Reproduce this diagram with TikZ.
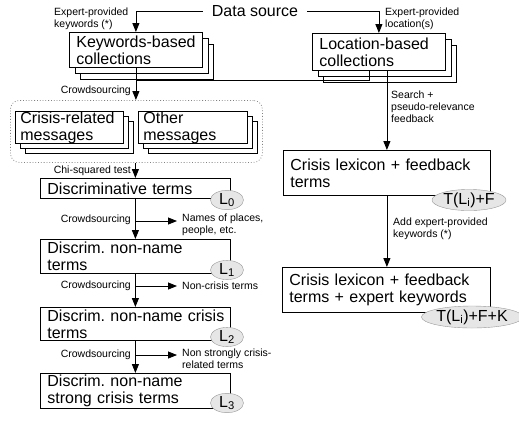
\documentclass[tikz,border=0pt]{standalone}
\usepackage{fontspec}
\setmainfont{Liberation Sans}
\usetikzlibrary{arrows.meta,shapes.geometric,shadows}
\definecolor{tagfill}{HTML}{E6E6E6}
\definecolor{tagline}{HTML}{999999}
\tikzset{
  big/.style={font=\fontsize{16}{17}\selectfont\frenchspacing},
  lbl/.style={font=\fontsize{10.5}{12}\selectfont\frenchspacing, align=left, inner sep=0pt},
  box/.style={draw=black, fill=white, line width=0.8pt, big, align=left,
    inner xsep=7pt, inner ysep=0pt, anchor=north west},
  stackbox/.style={box, double copy shadow={shadow xshift=5.5pt, shadow yshift=-6pt}},
  stackboxs/.style={box, inner xsep=5pt, double copy shadow={shadow xshift=5pt, shadow yshift=-5pt}},
  arr/.style={-{Triangle[length=9pt,width=7pt]}, line width=0.8pt},
  ln/.style={line width=0.8pt},
  tag/.style={ellipse, draw=tagline, fill=tagfill, inner sep=0pt, big},
}
\begin{document}
\begin{tikzpicture}[x=1pt,y=-1pt]
\useasboundingbox (0,0) rectangle (519,424);

% top
\node[big, inner xsep=9pt, inner ysep=0pt] (ds) at (255,11) {Data source};
\node[stackbox, text width=119pt, minimum height=35pt] (kw) at (69,32) {\mbox{Keywords-based}\\\mbox{collections}};
\node[stackbox, text width=119pt, minimum height=37pt] (loc) at (312,33) {\mbox{Location-based}\\\mbox{collections}};
\node[lbl, anchor=north west] (lkw) at (54,8) {Expert-provided\\keywords (*)};
\node[lbl, anchor=north west] (lloc) at (385,8) {Expert-provided\\location(s)};
\draw[arr] (ds.west) -| (kw.north);
\draw[arr] (ds.east) -| (loc.north);

% group
\node[draw=gray, dotted, line width=0.8pt, rounded corners=9pt, anchor=north west,
      minimum width=252pt, minimum height=62pt] (grp) at (10,100) {};
\node[stackboxs, text width=98pt, minimum height=32pt] (cr) at (15,111) {\mbox{Crisis-related}\\\mbox{messages}};
\node[stackboxs, text width=99pt, minimum height=32pt] (oth) at (138,111) {\mbox{Other}\\\mbox{messages}};

\coordinate (j) at (135.5,80);
\draw[ln] ([xshift=-9.5pt]loc.south) |- (j);
\draw[arr] (kw.south) -- (kw.south |- grp.north);
\node[lbl, anchor=east] (c0) at (131,91) {Crowdsourcing};

% search
\node[box, text width=193pt, minimum height=45pt] (r1) at (283,150) {\mbox{Crisis lexicon + feedback}\\\mbox{terms}};
\node[box, text width=194pt, minimum height=45pt] (r2) at (282,267) {\mbox{Crisis lexicon + feedback}\\\mbox{terms + expert keywords}};
\draw[arr] (loc.south -| r1.north) -- (r1.north);
\node[lbl, anchor=north west] (ls) at (391,91) {Search +\\pseudo-relevance\\feedback};
\draw[arr] (r1.south) -- (r1.south |- r2.north);
\node[lbl, anchor=north west] (la) at (393,218) {Add expert-provided\\keywords (*)};
\node[tag, minimum width=74pt, minimum height=20pt] (f1) at (469,200) {T(L\textsubscript{i})+F};
\node[tag, minimum width=81pt, minimum height=22pt] (f2) at (472,317) {T(L\textsubscript{i})+F+K};

% left chain
\node[box, text width=176pt, minimum height=20pt] (d0) at (40,178) {\mbox{Discriminative terms}};
\node[box, text width=176pt, minimum height=34pt] (d1) at (40,239) {\mbox{Discrim. non-name}\\\mbox{terms}};
\node[box, text width=176pt, minimum height=33pt] (d2) at (40,307) {\mbox{Discrim. non-name crisis}\\\mbox{terms}};
\node[box, text width=176pt, minimum height=35pt] (d3) at (40,373) {\mbox{Discrim. non-name}\\\mbox{strong crisis terms}};

\draw[arr] (grp.south -| d0.north) -- (d0.north);
\node[lbl, anchor=east] (chi) at (131,171) {Chi-squared test};

\draw[arr] (d0.south) -- (d1.north);
\draw[arr] (d1.south) -- (d2.north);
\draw[arr] (d2.south) -- (d3.north);

\node[lbl, anchor=east] (c1) at (131,220) {Crowdsourcing};
\node[lbl, anchor=east] (c2) at (131,286) {Crowdsourcing};
\node[lbl, anchor=east] (c3) at (131,355) {Crowdsourcing};

\node[lbl, anchor=north west, inner xsep=5pt] (n1) at (177,214) {Names of places,\\people, etc.};
\node[lbl, anchor=west, inner xsep=5pt] (n2) at (177,286) {Non-crisis terms};
\node[lbl, anchor=north west, inner xsep=5pt] (n3) at (177,349) {Non strongly crisis-\\related terms};

\coordinate (b1) at (135,221);
\coordinate (b2) at (135,286);
\coordinate (b3) at (135,355);
\draw[arr] (b1) -- (b1 -| n1.west);
\draw[arr] (b2) -- (b2 -| n2.west);
\draw[arr] (b3) -- (b3 -| n3.west);

\node[tag, minimum width=33pt, minimum height=19pt] (e0) at (227,200) {L\textsubscript{0}};
\node[tag, minimum width=33pt, minimum height=19pt] (e1) at (227,270) {L\textsubscript{1}};
\node[tag, minimum width=33pt, minimum height=19pt] (e2) at (227,337) {L\textsubscript{2}};
\node[tag, minimum width=33pt, minimum height=19pt] (e3) at (227,403) {L\textsubscript{3}};
\end{tikzpicture}
\end{document}
